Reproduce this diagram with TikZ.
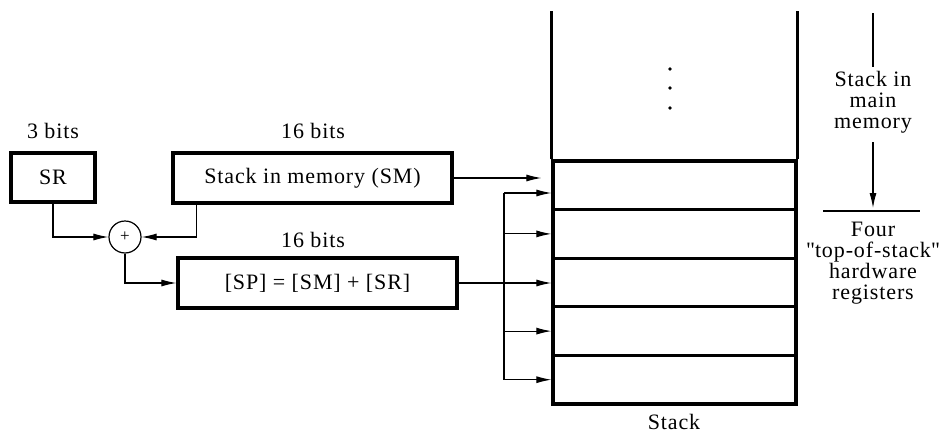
\documentclass[tikz,border=0pt]{standalone}
\usepackage{fontspec}
\setmainfont[LetterSpace=4]{Liberation Serif}
% same face without the TeX ligature mapping, for straight quotes
\newfontfamily\straightq[LetterSpace=4]{Liberation Serif}
\usetikzlibrary{arrows.meta}
\begin{document}
\begin{tikzpicture}[x=1pt,y=-1pt,
  txt/.style={font=\fontsize{22}{21}\selectfont, inner sep=0pt, align=center},
  reg/.style={draw, line width=3.2pt, inner sep=0pt, txt},
  cell/.style={draw, line width=3.2pt, minimum width=243pt, minimum height=48.6pt, inner sep=0pt},
  wall/.style={line width=3.2pt},
  conn/.style={line width=1.1pt},
  arr/.style={conn, -{Latex[length=15pt,width=7pt]}},
]
\useasboundingbox (0,0) rectangle (940,439);

% registers and adder
\node[reg, minimum width=84pt, minimum height=49pt] (sr) at (53,177.5) {SR};
\node[reg, minimum width=279pt, minimum height=50pt] (sm) at (312.5,178) {Stack in memory (SM)};
\node[reg, minimum width=279pt, minimum height=50pt] (sp) at (317.5,283) {[SP] = [SM] + [SR]};
\node[draw, circle, line width=1.2pt, minimum size=32pt, inner sep=0pt, font=\fontsize{17}{17}\selectfont] (add) at (125,237) {+};

\node[txt] (srbits) at (53,131) {3 bits};
\node[txt] (smbits) at (313,131) {16 bits};
\node[txt] (spbits) at (313,240) {16 bits};

\draw[arr] (sr.south) |- (add.west);
\draw[arr] ([xshift=25pt]sm.south west) |- (add.east);
\draw[arr] (add.south) |- (sp.west);

% stack: five top-of-stack cells below the part held in main memory
\foreach \i/\y in {1/185.3, 2/233.9, 3/282.5, 4/331.1, 5/379.7}
  \node[cell] (c\i) at (674.5,\y) {};
\draw[wall] (c1.north west) -- ++(0,-148);
\draw[wall] (c1.north east) -- ++(0,-148);
\foreach \y in {69,88,108} \fill (670,\y) circle (1.9pt);
\node[txt] (stk) at (674,422) {Stack};

% connections into the stack
\draw[arr, shorten >=10pt] (sm.east) -- (sm.east -| c1.west);
\coordinate (t1) at (504,193);
\coordinate (t5) at (504,379.7);
\draw[conn] (t1) -- (t5);
\draw[arr] (sp.east) -- (sp.east -| c3.west);
\draw[arr] (t1) -- (t1 -| c1.west);
\draw[arr] (t1 |- c2.west) -- (c2.west);
\draw[arr] (t1 |- c4.west) -- (c4.west);
\draw[arr] (t1 |- c5.west) -- (c5.west);

% legend on the right
\coordinate (m0) at (873,13);
\coordinate (m1) at (873,67);
\coordinate (m2) at (873,142);
\coordinate (m3) at (873,208);
\coordinate (h0) at (823,211);
\coordinate (h1) at (920,211);
\node[txt] (mainmem) at (873,102) {Stack in\\main\\memory};
\node[txt] (hwregs) at (873,263) {Four\\{\straightq"}top-of-stack{\straightq"}\\hardware\\registers};
\draw[conn] (m0) -- (m1);
\draw[arr] (m2) -- (m3);
\draw[conn] (h0) -- (h1);
\end{tikzpicture}
\end{document}
